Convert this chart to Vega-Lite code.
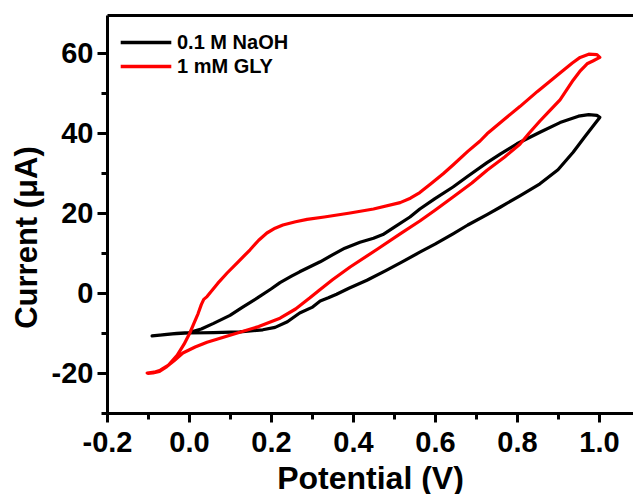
{
  "$schema": "https://vega.github.io/schema/vega-lite/v6.json",
  "width": 526,
  "height": 398,
  "autosize": {"type": "none"},
  "padding": {"left": 107, "top": 15, "right": 0, "bottom": 81},
  "background": "white",
  "config": {
    "view": {"stroke": null},
    "font": "Liberation Sans",
    "axis": {
      "grid": false,
      "domainColor": "black",
      "domainWidth": 3,
      "tickColor": "black",
      "tickWidth": 3,
      "labelFont": "Liberation Sans",
      "labelFontWeight": "bold",
      "labelFontSize": 29,
      "labelColor": "black",
      "titleFont": "Liberation Sans",
      "titleFontWeight": "bold",
      "titleColor": "black"
    }
  },
  "data": {
    "values": [
      {"s": "0.1 M NaOH", "i": 0, "x": -0.09, "y": -10.75},
      {"s": "0.1 M NaOH", "i": 1, "x": -0.06, "y": -10.4},
      {"s": "0.1 M NaOH", "i": 2, "x": -0.03, "y": -10.1},
      {"s": "0.1 M NaOH", "i": 3, "x": 0.0, "y": -9.9},
      {"s": "0.1 M NaOH", "i": 4, "x": 0.03, "y": -9.0},
      {"s": "0.1 M NaOH", "i": 5, "x": 0.06, "y": -7.6},
      {"s": "0.1 M NaOH", "i": 6, "x": 0.1, "y": -5.6},
      {"s": "0.1 M NaOH", "i": 7, "x": 0.13, "y": -3.6},
      {"s": "0.1 M NaOH", "i": 8, "x": 0.166, "y": -1.3},
      {"s": "0.1 M NaOH", "i": 9, "x": 0.2, "y": 1.0},
      {"s": "0.1 M NaOH", "i": 10, "x": 0.222, "y": 2.6},
      {"s": "0.1 M NaOH", "i": 11, "x": 0.25, "y": 4.2},
      {"s": "0.1 M NaOH", "i": 12, "x": 0.27, "y": 5.3},
      {"s": "0.1 M NaOH", "i": 13, "x": 0.3, "y": 6.8},
      {"s": "0.1 M NaOH", "i": 14, "x": 0.32, "y": 7.8},
      {"s": "0.1 M NaOH", "i": 15, "x": 0.351, "y": 9.6},
      {"s": "0.1 M NaOH", "i": 16, "x": 0.38, "y": 11.2},
      {"s": "0.1 M NaOH", "i": 17, "x": 0.417, "y": 12.7},
      {"s": "0.1 M NaOH", "i": 18, "x": 0.45, "y": 13.7},
      {"s": "0.1 M NaOH", "i": 19, "x": 0.473, "y": 14.6},
      {"s": "0.1 M NaOH", "i": 20, "x": 0.5, "y": 16.4},
      {"s": "0.1 M NaOH", "i": 21, "x": 0.539, "y": 19.0},
      {"s": "0.1 M NaOH", "i": 22, "x": 0.563, "y": 21.0},
      {"s": "0.1 M NaOH", "i": 23, "x": 0.6, "y": 23.6},
      {"s": "0.1 M NaOH", "i": 24, "x": 0.644, "y": 26.5},
      {"s": "0.1 M NaOH", "i": 25, "x": 0.68, "y": 29.2},
      {"s": "0.1 M NaOH", "i": 26, "x": 0.727, "y": 32.6},
      {"s": "0.1 M NaOH", "i": 27, "x": 0.76, "y": 34.8},
      {"s": "0.1 M NaOH", "i": 28, "x": 0.8, "y": 37.3},
      {"s": "0.1 M NaOH", "i": 29, "x": 0.856, "y": 40.2},
      {"s": "0.1 M NaOH", "i": 30, "x": 0.905, "y": 42.6},
      {"s": "0.1 M NaOH", "i": 31, "x": 0.95, "y": 44.2},
      {"s": "0.1 M NaOH", "i": 32, "x": 0.975, "y": 44.6},
      {"s": "0.1 M NaOH", "i": 33, "x": 0.995, "y": 44.4},
      {"s": "0.1 M NaOH", "i": 34, "x": 1.002, "y": 43.9},
      {"s": "0.1 M NaOH", "i": 35, "x": 0.99, "y": 42.3},
      {"s": "0.1 M NaOH", "i": 36, "x": 0.965, "y": 39.0},
      {"s": "0.1 M NaOH", "i": 37, "x": 0.937, "y": 35.2},
      {"s": "0.1 M NaOH", "i": 38, "x": 0.9, "y": 30.8},
      {"s": "0.1 M NaOH", "i": 39, "x": 0.856, "y": 27.3},
      {"s": "0.1 M NaOH", "i": 40, "x": 0.807, "y": 24.3},
      {"s": "0.1 M NaOH", "i": 41, "x": 0.76, "y": 21.5},
      {"s": "0.1 M NaOH", "i": 42, "x": 0.727, "y": 19.6},
      {"s": "0.1 M NaOH", "i": 43, "x": 0.68, "y": 17.0},
      {"s": "0.1 M NaOH", "i": 44, "x": 0.644, "y": 14.8},
      {"s": "0.1 M NaOH", "i": 45, "x": 0.6, "y": 12.2},
      {"s": "0.1 M NaOH", "i": 46, "x": 0.563, "y": 10.2},
      {"s": "0.1 M NaOH", "i": 47, "x": 0.52, "y": 7.8},
      {"s": "0.1 M NaOH", "i": 48, "x": 0.48, "y": 5.6},
      {"s": "0.1 M NaOH", "i": 49, "x": 0.434, "y": 3.2},
      {"s": "0.1 M NaOH", "i": 50, "x": 0.39, "y": 1.2},
      {"s": "0.1 M NaOH", "i": 51, "x": 0.36, "y": -0.3},
      {"s": "0.1 M NaOH", "i": 52, "x": 0.34, "y": -1.2},
      {"s": "0.1 M NaOH", "i": 53, "x": 0.32, "y": -2.0},
      {"s": "0.1 M NaOH", "i": 54, "x": 0.3, "y": -3.6},
      {"s": "0.1 M NaOH", "i": 55, "x": 0.27, "y": -5.0},
      {"s": "0.1 M NaOH", "i": 56, "x": 0.24, "y": -7.2},
      {"s": "0.1 M NaOH", "i": 57, "x": 0.21, "y": -8.6},
      {"s": "0.1 M NaOH", "i": 58, "x": 0.18, "y": -9.2},
      {"s": "0.1 M NaOH", "i": 59, "x": 0.124, "y": -9.7},
      {"s": "0.1 M NaOH", "i": 60, "x": 0.06, "y": -9.9},
      {"s": "0.1 M NaOH", "i": 61, "x": 0.0, "y": -10.0},
      {"s": "0.1 M NaOH", "i": 62, "x": -0.04, "y": -10.2},
      {"s": "0.1 M NaOH", "i": 63, "x": -0.09, "y": -10.7},
      {"s": "1 mM GLY", "i": 0, "x": -0.102, "y": -20.0},
      {"s": "1 mM GLY", "i": 1, "x": -0.085, "y": -19.8},
      {"s": "1 mM GLY", "i": 2, "x": -0.07, "y": -19.3},
      {"s": "1 mM GLY", "i": 3, "x": -0.05, "y": -18.0},
      {"s": "1 mM GLY", "i": 4, "x": -0.029, "y": -15.6},
      {"s": "1 mM GLY", "i": 5, "x": -0.012, "y": -12.8},
      {"s": "1 mM GLY", "i": 6, "x": 0.002, "y": -10.0},
      {"s": "1 mM GLY", "i": 7, "x": 0.012, "y": -7.6},
      {"s": "1 mM GLY", "i": 8, "x": 0.022, "y": -5.2},
      {"s": "1 mM GLY", "i": 9, "x": 0.03, "y": -2.9},
      {"s": "1 mM GLY", "i": 10, "x": 0.036, "y": -1.6},
      {"s": "1 mM GLY", "i": 11, "x": 0.044, "y": -0.9},
      {"s": "1 mM GLY", "i": 12, "x": 0.07, "y": 2.4},
      {"s": "1 mM GLY", "i": 13, "x": 0.093, "y": 5.0},
      {"s": "1 mM GLY", "i": 14, "x": 0.12, "y": 7.8},
      {"s": "1 mM GLY", "i": 15, "x": 0.149, "y": 10.8},
      {"s": "1 mM GLY", "i": 16, "x": 0.17, "y": 13.2},
      {"s": "1 mM GLY", "i": 17, "x": 0.19, "y": 15.0},
      {"s": "1 mM GLY", "i": 18, "x": 0.21, "y": 16.2},
      {"s": "1 mM GLY", "i": 19, "x": 0.229, "y": 17.0},
      {"s": "1 mM GLY", "i": 20, "x": 0.26, "y": 17.8},
      {"s": "1 mM GLY", "i": 21, "x": 0.288, "y": 18.4},
      {"s": "1 mM GLY", "i": 22, "x": 0.33, "y": 19.0},
      {"s": "1 mM GLY", "i": 23, "x": 0.393, "y": 20.0},
      {"s": "1 mM GLY", "i": 24, "x": 0.45, "y": 21.0},
      {"s": "1 mM GLY", "i": 25, "x": 0.515, "y": 22.6},
      {"s": "1 mM GLY", "i": 26, "x": 0.54, "y": 23.7},
      {"s": "1 mM GLY", "i": 27, "x": 0.563, "y": 25.1},
      {"s": "1 mM GLY", "i": 28, "x": 0.59, "y": 27.3},
      {"s": "1 mM GLY", "i": 29, "x": 0.62, "y": 29.8},
      {"s": "1 mM GLY", "i": 30, "x": 0.644, "y": 32.0},
      {"s": "1 mM GLY", "i": 31, "x": 0.68, "y": 35.4},
      {"s": "1 mM GLY", "i": 32, "x": 0.71, "y": 38.0},
      {"s": "1 mM GLY", "i": 33, "x": 0.727, "y": 39.8},
      {"s": "1 mM GLY", "i": 34, "x": 0.77, "y": 43.5},
      {"s": "1 mM GLY", "i": 35, "x": 0.807, "y": 46.6},
      {"s": "1 mM GLY", "i": 36, "x": 0.85, "y": 50.4},
      {"s": "1 mM GLY", "i": 37, "x": 0.905, "y": 55.0},
      {"s": "1 mM GLY", "i": 38, "x": 0.935, "y": 57.5},
      {"s": "1 mM GLY", "i": 39, "x": 0.954, "y": 58.9},
      {"s": "1 mM GLY", "i": 40, "x": 0.975, "y": 59.7},
      {"s": "1 mM GLY", "i": 41, "x": 0.995, "y": 59.6},
      {"s": "1 mM GLY", "i": 42, "x": 1.002, "y": 58.9},
      {"s": "1 mM GLY", "i": 43, "x": 0.985, "y": 58.0},
      {"s": "1 mM GLY", "i": 44, "x": 0.971, "y": 57.3},
      {"s": "1 mM GLY", "i": 45, "x": 0.955, "y": 55.6},
      {"s": "1 mM GLY", "i": 46, "x": 0.937, "y": 53.2},
      {"s": "1 mM GLY", "i": 47, "x": 0.905, "y": 48.3},
      {"s": "1 mM GLY", "i": 48, "x": 0.88, "y": 45.6},
      {"s": "1 mM GLY", "i": 49, "x": 0.856, "y": 43.0},
      {"s": "1 mM GLY", "i": 50, "x": 0.83, "y": 40.0},
      {"s": "1 mM GLY", "i": 51, "x": 0.807, "y": 37.2},
      {"s": "1 mM GLY", "i": 52, "x": 0.77, "y": 34.0},
      {"s": "1 mM GLY", "i": 53, "x": 0.727, "y": 30.7},
      {"s": "1 mM GLY", "i": 54, "x": 0.69, "y": 27.5},
      {"s": "1 mM GLY", "i": 55, "x": 0.644, "y": 24.0},
      {"s": "1 mM GLY", "i": 56, "x": 0.6, "y": 20.7},
      {"s": "1 mM GLY", "i": 57, "x": 0.563, "y": 18.0},
      {"s": "1 mM GLY", "i": 58, "x": 0.515, "y": 14.8},
      {"s": "1 mM GLY", "i": 59, "x": 0.46, "y": 11.0},
      {"s": "1 mM GLY", "i": 60, "x": 0.393, "y": 6.5},
      {"s": "1 mM GLY", "i": 61, "x": 0.35, "y": 3.3},
      {"s": "1 mM GLY", "i": 62, "x": 0.32, "y": 0.9},
      {"s": "1 mM GLY", "i": 63, "x": 0.295, "y": -1.2},
      {"s": "1 mM GLY", "i": 64, "x": 0.26, "y": -4.0},
      {"s": "1 mM GLY", "i": 65, "x": 0.222, "y": -6.3},
      {"s": "1 mM GLY", "i": 66, "x": 0.17, "y": -8.4},
      {"s": "1 mM GLY", "i": 67, "x": 0.124, "y": -9.8},
      {"s": "1 mM GLY", "i": 68, "x": 0.08, "y": -11.2},
      {"s": "1 mM GLY", "i": 69, "x": 0.044, "y": -12.3},
      {"s": "1 mM GLY", "i": 70, "x": 0.015, "y": -13.5},
      {"s": "1 mM GLY", "i": 71, "x": -0.015, "y": -15.0},
      {"s": "1 mM GLY", "i": 72, "x": -0.035, "y": -16.8},
      {"s": "1 mM GLY", "i": 73, "x": -0.054, "y": -18.4},
      {"s": "1 mM GLY", "i": 74, "x": -0.072, "y": -19.6},
      {"s": "1 mM GLY", "i": 75, "x": -0.088, "y": -20.0},
      {"s": "1 mM GLY", "i": 76, "x": -0.1, "y": -20.1}
    ]
  },
  "layer": [
    {
      "mark": {"type": "line", "strokeWidth": 3.2, "strokeJoin": "round", "strokeCap": "round", "interpolate": "linear"},
      "encoding": {
        "x": {
          "field": "x", "type": "quantitative",
          "scale": {"domain": [-0.2, 1.083], "nice": false, "zero": false},
          "axis": {
            "orient": "bottom",
            "values": [-0.2, 0, 0.2, 0.4, 0.6, 0.8, 1.0],
            "labelExpr": "replace(format(datum.value, '.1f'), '\u2212', '-')",
            "tickSize": 9,
            "labelPadding": 6,
            "labelFlush": false,
            "labelOverlap": false,
            "title": "Potential (V)",
            "titleFontSize": 32,
            "titlePadding": 6
          }
        },
        "y": {
          "field": "y", "type": "quantitative",
          "scale": {"domain": [-30, 69.5], "nice": false, "zero": false},
          "axis": {
            "orient": "left",
            "values": [-20, 0, 20, 40, 60],
            "labelExpr": "replace(format(datum.value, 'd'), '\u2212', '-')",
            "tickSize": 10,
            "labelPadding": 4,
            "labelFlush": false,
            "labelOverlap": false,
            "title": "Current (μA)",
            "titleFontSize": 31,
            "titlePadding": 8,
            "titleY": 222
          }
        },
        "color": {
          "field": "s", "type": "nominal",
          "scale": {"domain": ["0.1 M NaOH", "1 mM GLY"], "range": ["#000000", "#ff0000"]},
          "legend": {
            "title": null,
            "orient": "none",
            "legendX": 25.5,
            "legendY": 14,
            "symbolType": "M-2.2,0H2.2",
            "symbolSize": 529,
            "symbolStrokeWidth": 3.5,
            "symbolFillColor": "transparent",
            "labelFont": "Liberation Sans",
            "labelFontWeight": "bold",
            "labelFontSize": 20,
            "labelColor": "black",
            "labelOffset": 17.5,
            "rowPadding": 0
          }
        },
        "order": {"field": "i", "type": "quantitative"}
      }
    },
    {
      "mark": {"type": "point", "opacity": 0},
      "encoding": {
        "x": {
          "field": "x", "type": "quantitative",
          "axis": {
            "orient": "bottom",
            "values": [-0.1, 0.1, 0.3, 0.5, 0.7, 0.9],
            "domain": false,
            "labels": false,
            "tickSize": 6,
            "title": null
          }
        },
        "y": {
          "field": "y", "type": "quantitative",
          "axis": {
            "orient": "left",
            "values": [-30, -10, 10, 30, 50],
            "domain": false,
            "labels": false,
            "tickSize": 6,
            "title": null
          }
        }
      }
    },
    {
      "mark": {"type": "point", "opacity": 0},
      "encoding": {
        "x": {
          "field": "x", "type": "quantitative",
          "axis": {
            "orient": "top",
            "domain": true,
            "ticks": false,
            "labels": false,
            "title": null
          }
        },
        "y": {"field": "y", "type": "quantitative", "axis": null}
      }
    }
  ],
  "resolve": {"axis": {"x": "independent", "y": "independent"}}
}
